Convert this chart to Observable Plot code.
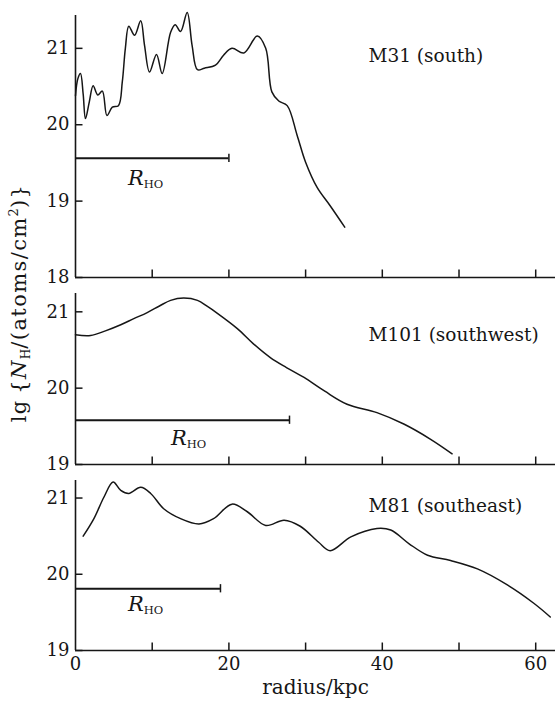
<!DOCTYPE html>
<html><head><meta charset="utf-8">
<script src="https://cdn.jsdelivr.net/npm/d3@7"></script>
<script src="https://cdn.jsdelivr.net/npm/@observablehq/plot@0.6"></script>
<style>
body{margin:0;background:#fff;}
#chart{position:relative;width:555px;height:709px;font-family:"DejaVu Serif",serif;color:#161616;}
#chart svg{display:block;}
#ylab{position:absolute;left:19px;top:303px;transform:translate(-50%,-50%) rotate(-90deg);white-space:nowrap;font-size:21px;letter-spacing:1.4px;line-height:1;}
#ylab sub{font-size:12px;vertical-align:-4px;letter-spacing:0;}
#ylab sup{font-size:13px;vertical-align:8px;letter-spacing:0;}
</style></head><body>
<div id="chart"><div id="ylab">lg&#8201;{<i>N</i><sub>H</sub>/(atoms/cm<sup>2</sup>)}</div></div>
<script>
// Data
const m31R = [0, 0.3, 0.65, 1.0, 1.3, 1.8, 2.3, 2.9, 3.5, 4.1, 4.8, 5.6, 6.1, 6.5, 6.95, 7.7, 8.5, 9.0, 9.65, 10.56, 11.3, 12.4, 13.0, 13.7, 14.56, 15.2, 15.9, 16.8, 18.25, 19.3, 20.4, 21.95, 23.7, 24.8, 25.6, 26.5, 27.6, 28.9, 30.0, 31.5, 33.2, 35.1];
const m31V = [20.38, 20.6, 20.67, 20.4, 20.08, 20.3, 20.51, 20.39, 20.44, 20.12, 20.23, 20.25, 20.56, 21.0, 21.29, 21.17, 21.36, 21.04, 20.69, 20.92, 20.67, 21.21, 21.31, 21.22, 21.47, 21.04, 20.72, 20.74, 20.78, 20.91, 21.0, 20.94, 21.16, 21.0, 20.43, 20.31, 20.25, 19.86, 19.51, 19.18, 18.94, 18.66];

const m101R = [0, 1.96, 3.9, 5.9, 7.6, 9.35, 11.0, 12.4, 14.1, 15.9, 17.2, 18.5, 21.1, 23.2, 25.4, 27.5, 29.8, 32.5, 35.4, 39.3, 42.8, 46.3, 49.1];
const m101V = [20.70, 20.69, 20.75, 20.83, 20.91, 20.99, 21.08, 21.15, 21.18, 21.15, 21.07, 20.98, 20.78, 20.58, 20.40, 20.27, 20.14, 19.96, 19.79, 19.68, 19.53, 19.33, 19.14];

const m81R = [1.0, 2.4, 3.7, 4.9, 5.9, 6.95, 8.5, 9.8, 11.5, 13.7, 16.1, 18.0, 20.4, 22.4, 24.8, 27.2, 29.3, 31.7, 33.2, 35.9, 39.3, 41.1, 43.5, 45.9, 48.9, 52.4, 56.3, 59.75, 61.9];
const m81V = [20.50, 20.73, 21.01, 21.21, 21.10, 21.06, 21.14, 21.06, 20.86, 20.73, 20.66, 20.73, 20.92, 20.82, 20.64, 20.71, 20.63, 20.42, 20.31, 20.49, 20.60, 20.58, 20.40, 20.25, 20.18, 20.07, 19.86, 19.62, 19.44];

const galaxyNames = ["M31 (south)", "M101 (southwest)", "M81 (southeast)"];
const rHO = [20, 27.9, 18.9];           // R_HO radius (kpc)
const rHOLevel = [19.56, 19.58, 19.81]; // vertical position of the R_HO bar
const xTickMarks = [10, 20, 30, 40, 50, 60];
const xTickLabels = [0, 20, 40, 60];
const yTicks1 = [18, 19, 20, 21];
const yTicks2 = [19, 20, 21];
const yTicks3 = [19, 20, 21];
const xLabel = "radius/kpc";

const ink = "#161616";
const xDomain = [0, 62.58];
const plotW = 480;          // inner width in px
const pxPerUnitY = 76.3;    // inner px per y unit
const tickPx = 7.5;

const panels = [
  {r: m31R, v: m31V, name: galaxyNames[0], rEnd: rHO[0], rY: rHOLevel[0], yDomain: [18, 21.43], yTicks: yTicks1,
   height: 285, mt: 15, mb: 8, nameY: 20.90, rtX: 8.9, rtY: 19.30, bottom: false},
  {r: m101R, v: m101V, name: galaxyNames[1], rEnd: rHO[1], rY: rHOLevel[1], yDomain: [19, 21.24], yTicks: yTicks2,
   height: 185, mt: 8, mb: 6, nameY: 20.69, rtX: 14.5, rtY: 19.345, bottom: false},
  {r: m81R, v: m81V, name: galaxyNames[2], rEnd: rHO[2], rY: rHOLevel[2], yDomain: [19, 21.23], yTicks: yTicks3,
   height: 239, mt: 10, mb: 59, nameY: 20.90, rtX: 8.9, rtY: 19.60, bottom: true}
];

const chart = document.getElementById("chart");
for (const p of panels) {
  const data = p.r.map((r, i) => ({r, v: p.v[i]}));
  const y0 = p.yDomain[0];
  const dyTick = tickPx / pxPerUnitY;                        // tick length in y units
  const dxTick = tickPx * (xDomain[1] - xDomain[0]) / plotW; // tick length in x units
  const marks = [
    Plot.ruleY([y0], {stroke: ink, strokeWidth: 1.6}),
    Plot.ruleX([0], {stroke: ink, strokeWidth: 1.6}),
    Plot.ruleX(xTickMarks, {x: d => d, y1: y0, y2: y0 + dyTick, stroke: ink, strokeWidth: 1.5}),
    Plot.ruleY(p.yTicks, {y: d => d, x1: 0, x2: dxTick, stroke: ink, strokeWidth: 1.5}),
    Plot.axisY(p.yTicks, {tickSize: 0, tickPadding: 6, fontSize: 18, tickFormat: d => String(d)}),
    Plot.line(data, {x: "r", y: "v", curve: "catmull-rom", stroke: ink, strokeWidth: 1.5}),
    Plot.ruleY([p.rY], {x1: 0, x2: p.rEnd, stroke: ink, strokeWidth: 2}),
    Plot.ruleX([p.rEnd], {x: d => d, y1: p.rY - 0.55 * dyTick, y2: p.rY + 0.55 * dyTick, stroke: ink, strokeWidth: 1.5}),
    Plot.text([p.name], {x: 38.2, y: p.nameY, textAnchor: "start", fontSize: 18.5, fill: ink}),
    Plot.text(["R"], {x: p.rtX, y: p.rtY, textAnchor: "end", fontStyle: "italic", fontSize: 21, fill: ink}),
    Plot.text(["HO"], {x: p.rtX, y: p.rtY, dy: 6, textAnchor: "start", fontSize: 11.5, fill: ink})
  ];
  if (p.bottom) {
    marks.push(Plot.axisX(xTickLabels, {tickSize: 0, tickPadding: 7, fontSize: 18, tickFormat: d => String(d)}));
    marks.push(Plot.text([xLabel], {frameAnchor: "bottom", dy: 43, fontSize: 20, fill: ink}));
  }
  const svg = Plot.plot({
    width: 555,
    height: p.height,
    marginLeft: 75,
    marginRight: 0,
    marginTop: p.mt,
    marginBottom: p.mb,
    style: {fontFamily: "DejaVu Serif, serif", fontSize: "18px", color: ink, background: "white", overflow: "visible"},
    x: {domain: xDomain, axis: p.bottom ? undefined : null, label: null},
    y: {domain: p.yDomain, label: null},
    marks
  });
  chart.appendChild(svg);
}
</script>
</body></html>
